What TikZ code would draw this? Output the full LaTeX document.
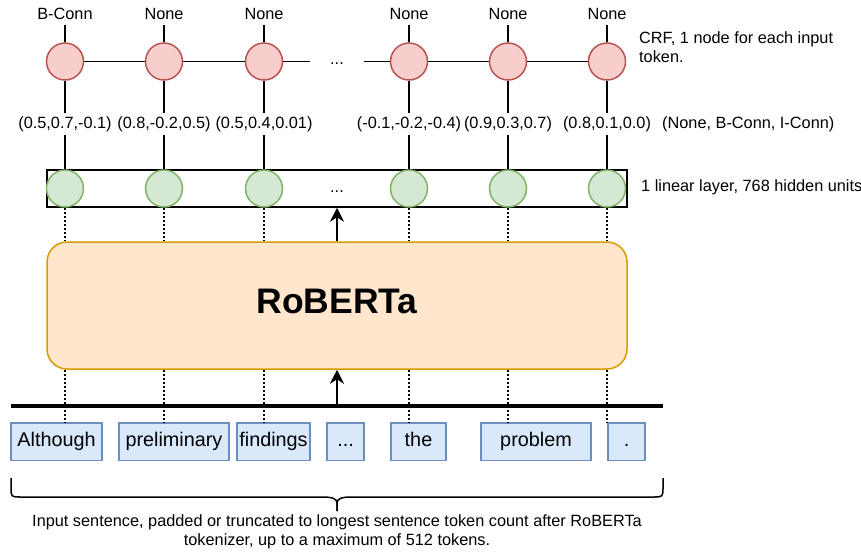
\documentclass[tikz,border=0pt]{standalone}
\usepackage{fontspec}
\setmainfont{Liberation Sans}
\usetikzlibrary{arrows.meta}

\definecolor{crffill}{HTML}{F8CECC}
\definecolor{crfline}{HTML}{B85450}
\definecolor{unitfill}{HTML}{D5E8D4}
\definecolor{unitline}{HTML}{82B366}
\definecolor{tokfill}{HTML}{DAE8FC}
\definecolor{tokline}{HTML}{6C8EBF}
\definecolor{robfill}{HTML}{FFE6CC}
\definecolor{robline}{HTML}{D79B00}

\begin{document}
\begin{tikzpicture}[x=1pt,y=-1pt,
  crf/.style={circle, draw=crfline, fill=crffill, line width=1.5pt, minimum size=37pt, inner sep=0pt},
  unit/.style={circle, draw=unitline, fill=unitfill, line width=1.5pt, minimum size=37pt, inner sep=0pt},
  lbl/.style={font=\fontsize{16.3}{19}\selectfont, inner sep=0pt, anchor=base},
  probs/.style={font=\fontsize{16.3}{19}\selectfont, text height=12pt, text depth=4pt, inner xsep=0pt, inner ysep=3pt, anchor=base},
  tok/.style={draw=tokline, fill=tokfill, line width=1.5pt, font=\fontsize{19.8}{23}\selectfont,
              text height=14.2pt, text depth=4.2pt, inner sep=0pt, minimum height=37.5pt},
  link/.style={line width=1.5pt},
  tap/.style={line width=1.5pt, dash pattern=on 2pt off 2pt},
  feed/.style={line width=1.8pt, -{Stealth[length=14pt, width=14pt, inset=4.5pt]}}
]
\useasboundingbox (0,0) rectangle (861,552);

% linear layer frame (drawn before its units)
\node[draw, line width=1.5pt, minimum width=580pt, minimum height=37pt, inner sep=0pt] (lin) at (337,188.5) {};

% RoBERTa encoder block
\node[rounded corners=20pt, draw=robline, fill=robfill, line width=1.5pt,
      minimum width=580pt, minimum height=127pt, inner sep=0pt] (rob) at (337,305.5) {};
\node[font=\bfseries\fontsize{35.5}{42}\selectfont, inner sep=0pt, anchor=base] (robtxt) at (337,313) {RoBERTa};

% columns: CRF node, tag, class scores, hidden unit
\foreach \i/\x/\t/\p in {1/65/B-Conn/{(0.5,0.7,-0.1)},
                         2/164/None/{(0.8,-0.2,0.5)},
                         3/264/None/{(0.5,0.4,0.01)},
                         4/409/None/{(-0.1,-0.2,-0.4)},
                         5/508/None/{(0.9,0.3,0.7)},
                         6/607/None/{(0.8,0.1,0.0)}} {
  \node[crf] (c\i) at (\x,61.5) {};
  \node[lbl] (t\i) at (\x,19.5) {\t};
  \node[probs] (p\i) at (\x,128) {\p};
  \node[unit] (u\i) at (\x,188.5) {};
  \draw[link, shorten >=5.5pt] (c\i.north) -- (t\i.base);
  \draw[link] (c\i.south) -- (p\i.north);
  \draw[link] (p\i.south) -- (u\i.north);
}

% CRF chain
\coordinate (gapL) at (310,61.5);
\coordinate (gapR) at (364,61.5);
\draw[link] (c1) -- (c2);
\draw[link] (c2) -- (c3);
\draw[link] (c3) -- (gapL);
\draw[link] (gapR) -- (c4);
\draw[link] (c4) -- (c5);
\draw[link] (c5) -- (c6);
\node[lbl] (crfdots) at (337,64.5) {...};
\node[lbl] (lindots) at (337,192) {...};

% input tokens
\node[tok, minimum width=91pt]  (tok1) at (56.5,441.75) {Although};
\node[tok, minimum width=110pt] (tok2) at (174,441.75) {preliminary};
\node[tok, minimum width=73pt]  (tok3) at (273.5,441.75) {findings};
\node[tok, minimum width=37pt]  (tok4) at (345.5,441.75) {...};
\node[tok, minimum width=55pt]  (tok5) at (418.5,441.75) {the};
\node[tok, minimum width=110pt] (tok6) at (536,441.75) {problem};
\node[tok, minimum width=37pt]  (tok7) at (626.5,441.75) {.};

% token bus
\coordinate (busL) at (11,406);
\coordinate (busR) at (663,406);
\coordinate (busM) at (337,406);
\draw[line width=3.3pt] (busL) -- (busR);

% dotted taps between layers
\foreach \i in {1,...,6} {
  \draw[tap] (u\i.south) -- (u\i |- rob.north);
  \draw[tap] (u\i |- rob.south) -- (u\i |- tok1.north);
}

% data flow
\draw[feed] (busM) -- (rob.south);
\draw[feed] (rob.north) -- (lin.south);

% side notes
\node[lbl, anchor=base west] (crfnote1) at (639,43) {CRF, 1 node for each input};
\node[lbl, anchor=base west] (crfnote2) at (639,62.5) {token.};
\node[lbl, anchor=base west] (probnote) at (662,128) {(None, B-Conn, I-Conn)};
\node[lbl, anchor=base west] (linnote) at (641,191) {1 linear layer, 768 hidden units};

% brace under the sentence
\coordinate (braceL) at (11,478);
\coordinate (braceR) at (663,478);
\coordinate (braceTip) at (337,511);
\draw[link] (braceL) -- (11,487) .. controls (11,497) .. (21,497) -- (323,497)
  .. controls (333,497) and (337,499) .. (337,503) -- (braceTip);
\draw[link] (braceTip) -- (337,503) .. controls (337,499) and (341,497) .. (351,497)
  -- (653,497) .. controls (663,497) .. (663,487) -- (braceR);

\node[lbl] (cap1) at (337,526.5) {Input sentence, padded or truncated to longest sentence token count after RoBERTa};
\node[lbl] (cap2) at (337,545.5) {tokenizer, up to a maximum of 512 tokens.};
\end{tikzpicture}
\end{document}
